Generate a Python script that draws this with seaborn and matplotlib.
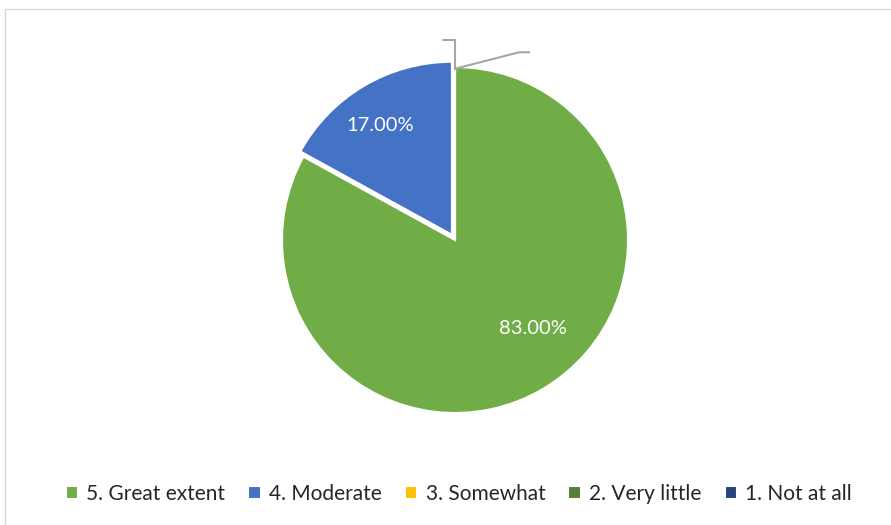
import numpy as np
import seaborn as sns
import matplotlib.pyplot as plt
from matplotlib.patches import Rectangle

# data
categories = ['5. Great extent', '4. Moderate', '3. Somewhat', '2. Very little', '1. Not at all']
shares = [83.0, 17.0, 0.0, 0.0, 0.0]
colors = ['#70AD47', '#4472C4', '#FFC000', '#548235', '#264478']

sns.set_theme(style='white')
plt.rcParams['font.family'] = ['Lato', 'DejaVu Sans']

W, H = 891, 525
fig = plt.figure(figsize=(W / 100, H / 100), dpi=100)

# chart frame
fig.add_artist(Rectangle((5 / W, -0.01), 1.0, 1 - 9 / H + 0.01, transform=fig.transFigure,
                         fill=False, edgecolor='#D9D9D9', linewidth=1.0))

# pie placed by pixel centre / radius
cx, cy, R = 455, 240, 173
ax = fig.add_axes([(cx - R) / W, (H - cy - R) / H, 2 * R / W, 2 * R / H])

explode = [0.0, 0.035, 0.0, 0.0, 0.0]


def pct_label(p):
    return f'{p:.2f}%' if p > 0 else ''


wedges, texts, autotexts = ax.pie(
    shares, colors=colors, startangle=90, counterclock=False, explode=explode,
    autopct=pct_label, pctdistance=0.72, radius=1.0,
    wedgeprops=dict(edgecolor='white', linewidth=1.5), frame=False,
    textprops=dict(color='white', fontsize=14.5))
for w in wedges:
    w.set_clip_on(False)
ax.set_xlim(-1, 1)
ax.set_ylim(-1, 1)
ax.set_aspect('equal')
ax.axis('off')

# "best fit" label spots like Excel: (distance, angle) per labelled slice
label_spots = [(0.68, -48.8), (0.79, 123.0)]
for t, (d, a) in zip(autotexts, label_spots):
    t.set_position((d * np.cos(np.radians(a)), d * np.sin(np.radians(a))))

# leader lines of the empty (0%) slices
ax.plot([0.0, 0.0, -0.07], [0.99, 1.155, 1.155], color='#A6A6A6', lw=1.5, clip_on=False)
ax.plot([0.0, 0.37, 0.43], [0.99, 1.085, 1.085], color='#A6A6A6', lw=1.5, clip_on=False)

fig.legend(wedges, categories, loc='center', bbox_to_anchor=(0.515, 1 - 494 / H), ncol=5,
           frameon=False, fontsize=15, handlelength=0.6, handleheight=0.6,
           handletextpad=0.4, columnspacing=1.1)

fig.savefig('out.png', dpi=100)
